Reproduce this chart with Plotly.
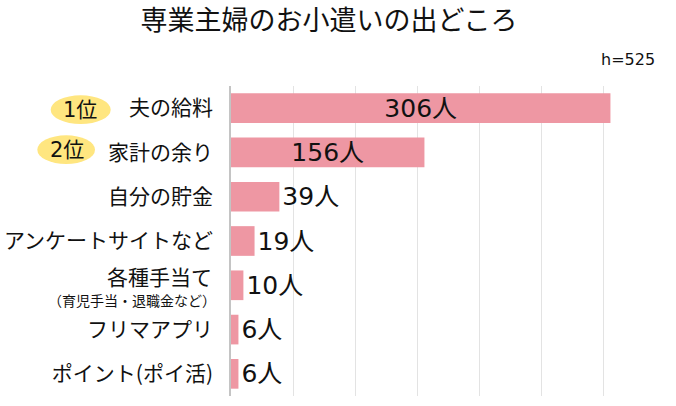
import plotly.graph_objects as go

categories = ["夫の給料", "家計の余り", "自分の貯金", "アンケートサイトなど",
              "各種手当て", "フリマアプリ", "ポイント(ポイ活)"]
sub_label = "（育児手当・退職金など）"
sub_row = 4
values = [306, 156, 39, 19, 10, 6, 6]
labels = [f"{v}人" for v in values]
ranks = ["1位", "2位"]
sample_note = "h=525"

FONT = "Noto Sans CJK JP"
NUMFONT = "DejaVu Sans, Noto Sans CJK JP"
W, H = 676, 406
L, R, T, B = 231, 11, 86, 10
pw = W - L - R

def px_to_paper_x(px):
    return (px - L) / pw

inside = ["inside" if v > 100 else "outside" for v in values]
ticktext = ["" if i == sub_row else c for i, c in enumerate(categories)]

fig = go.Figure(go.Bar(
    x=values, y=list(range(len(categories))), orientation="h",
    marker=dict(color="#EE97A3", line=dict(width=0)),
    text=labels, textposition=inside, insidetextanchor="middle",
    textfont=dict(family=NUMFONT, size=25, color="#111"),
    cliponaxis=False, width=0.67,
))

shapes = [
    dict(type="circle", xref="paper", yref="y",
         x0=px_to_paper_x(50.7), x1=px_to_paper_x(110.7), y0=-0.29, y1=0.36,
         fillcolor="#FFE680", line=dict(width=0), layer="above"),
    dict(type="circle", xref="paper", yref="y",
         x0=px_to_paper_x(37.3), x1=px_to_paper_x(95), y0=0.614, y1=1.262,
         fillcolor="#FFE680", line=dict(width=0), layer="above"),
]
lab_x = px_to_paper_x(214)
annotations = [
    dict(text=ranks[0], xref="paper", yref="y", x=px_to_paper_x(80), xanchor="center",
         y=0.035, yanchor="middle",
         showarrow=False, font=dict(family=NUMFONT, size=21, color="#111")),
    dict(text=ranks[1], xref="paper", yref="y", x=px_to_paper_x(67), xanchor="center",
         y=0.94, yanchor="middle",
         showarrow=False, font=dict(family=NUMFONT, size=21, color="#111")),
    dict(text=categories[sub_row], xref="paper", yref="y", x=lab_x, xanchor="right",
         y=sub_row - 0.2, yanchor="middle",
         showarrow=False, font=dict(family=FONT, size=21, color="#111")),
    dict(text=sub_label, xref="paper", yref="y", x=px_to_paper_x(218), xanchor="right",
         y=sub_row + 0.33, yanchor="middle",
         showarrow=False, font=dict(family=FONT, size=14, color="#111")),
    dict(text=sample_note, xref="paper", yref="paper", x=px_to_paper_x(657), xanchor="right",
         y=(H - B - 60) / (H - T - B), yanchor="middle",
         showarrow=False, font=dict(family=NUMFONT, size=16, color="#111")),
]

fig.update_layout(
    width=W, height=H,
    margin=dict(l=L, r=R, t=T, b=B, autoexpand=False),
    paper_bgcolor="white", plot_bgcolor="white",
    font=dict(family=FONT, color="#111"),
    title=dict(text="専業主婦のお小遣いの出どころ", x=329 / W, xanchor="center",
               xref="container", y=1 - 21 / H, yanchor="middle",
               font=dict(family=FONT, size=27, color="#111")),
    showlegend=False,
    uniformtext=dict(minsize=25, mode="show"),
    shapes=shapes, annotations=annotations,
)
fig.update_xaxes(range=[0, 350], dtick=50, showticklabels=False, gridcolor="#e3e3e3",
                 gridwidth=1, zeroline=False, showline=False, fixedrange=True,
                 automargin=False)
fig.update_yaxes(range=[len(categories) - 0.5, -0.5], showline=True, linecolor="#c4c4c4",
                 linewidth=1.5, ticks="", ticklabelstandoff=12, automargin=False,
                 tickmode="array", tickvals=list(range(len(categories))), ticktext=ticktext,
                 tickfont=dict(family=FONT, size=21, color="#111"), showgrid=False)

fig.write_html("out.html")
